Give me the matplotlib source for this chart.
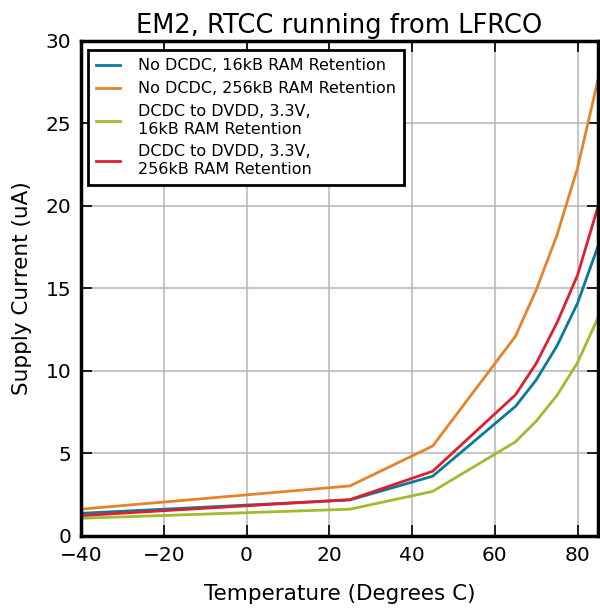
import numpy as np
import matplotlib
matplotlib.use("Agg")
import matplotlib.pyplot as plt

# temperature points (Degrees C)
temps = [-40, 25, 45, 65, 70, 75, 80, 85]

# supply current (uA)
nodcdc_16k = [1.37, 2.18, 3.62, 7.85, 9.45, 11.5, 14.1, 17.6]
nodcdc_256k = [1.62, 3.03, 5.45, 12.1, 14.9, 18.2, 22.3, 27.7]
dcdc_16k = [1.07, 1.62, 2.7, 5.7, 6.95, 8.5, 10.5, 13.25]
dcdc_256k = [1.23, 2.2, 3.92, 8.55, 10.45, 12.9, 15.8, 20.0]

labels = [
    "No DCDC, 16kB RAM Retention",
    "No DCDC, 256kB RAM Retention",
    "DCDC to DVDD, 3.3V,\n16kB RAM Retention",
    "DCDC to DVDD, 3.3V,\n256kB RAM Retention",
]
colors = ["#0a7a98", "#e5832a", "#a3b92e", "#dd1f30"]


def main():
    fig = plt.figure(figsize=(6.0, 6.09), dpi=100)
    ax = fig.add_axes([0.135, 0.12, 0.862, 0.8127])

    series = [nodcdc_16k, nodcdc_256k, dcdc_16k, dcdc_256k]
    for vals, lab, col in zip(series, labels, colors):
        ax.plot(temps, vals, color=col, lw=2, label=lab)

    ax.set_xlim(-40, 85)
    ax.set_ylim(0, 30)
    ax.set_xticks([-40, -20, 0, 20, 40, 60, 80])
    ax.set_yticks([0, 5, 10, 15, 20, 25, 30])
    ax.grid(True, color="#b0b0b0", lw=1.5, alpha=0.7)
    ax.set_axisbelow(True)
    ax.tick_params(direction="in", length=8, width=1.2, top=True, right=True,
                   labelsize=14.5, pad=7)
    for sp in ax.spines.values():
        sp.set_linewidth(2.5)

    ax.set_title("EM2, RTCC running from LFRCO", fontsize=18.5, pad=6)
    ax.set_xlabel("Temperature (Degrees C)", fontsize=15.5, labelpad=14)
    ax.set_ylabel("Supply Current (uA)", fontsize=15.5, labelpad=10)

    leg = ax.legend(loc="upper left", fontsize=11.5, fancybox=False,
                    framealpha=1, edgecolor="black", borderpad=0.5,
                    handlelength=1.5, handletextpad=1.1, labelspacing=0.5,
                    borderaxespad=0.45, bbox_to_anchor=(0.0, 0.996))
    leg.get_frame().set_linewidth(2)

    fig.savefig("out.png", dpi=100)


if __name__ == "__main__":
    main()
